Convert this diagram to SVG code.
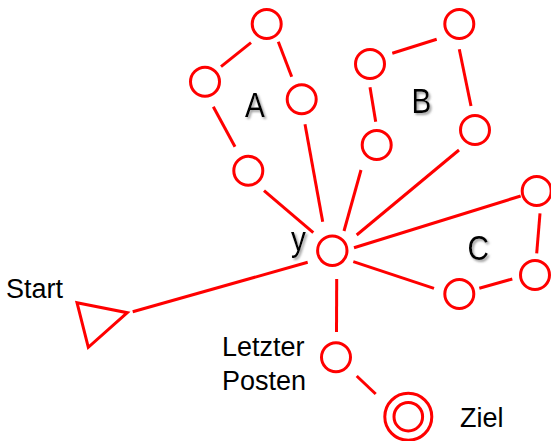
<svg xmlns="http://www.w3.org/2000/svg" width="551" height="441" viewBox="0 0 551 441">
<defs>
<filter id="sh" x="-20%" y="-20%" width="150%" height="150%">
<feDropShadow dx="2" dy="2" stdDeviation="1" flood-color="#888" flood-opacity="0.8"/>
</filter>
<style>
.n{fill:none;stroke:#ff0000;stroke-width:3}
.c line{stroke:#ff0000;stroke-width:3}
.lbl{font-family:"Liberation Sans",Arial,sans-serif;font-size:27px;fill:#000}
.big{font-family:"Liberation Sans",Arial,sans-serif;font-size:35px;fill:#000;filter:url(#sh)}
</style>
</defs>
<rect width="551" height="441" fill="#fff"/>
<g class="c" id="connectors">
<line x1="251" y1="42.7" x2="221" y2="66.7"/>
<line x1="278.3" y1="41.7" x2="291.7" y2="76.7"/>
<line x1="213.3" y1="106.7" x2="235" y2="146.7"/>
<line x1="305" y1="124.3" x2="322.7" y2="221.7"/>
<line x1="264" y1="190.7" x2="313.3" y2="232.7"/>
<line x1="370" y1="87.3" x2="375.7" y2="121.7"/>
<line x1="392.3" y1="53.3" x2="436.7" y2="39.3"/>
<line x1="459.3" y1="49.3" x2="471" y2="106"/>
<line x1="361" y1="170" x2="344" y2="231"/>
<line x1="459" y1="150" x2="356.7" y2="235"/>
<line x1="354" y1="247.7" x2="520.7" y2="196"/>
<line x1="540" y1="213.3" x2="536.7" y2="253.3"/>
<line x1="512.3" y1="279" x2="479.3" y2="288.3"/>
<line x1="353.3" y1="261.7" x2="434" y2="288.3"/>
<line x1="132.7" y1="311.7" x2="307.7" y2="262.3"/>
<line x1="336.7" y1="279" x2="336.5" y2="332"/>
<line x1="356.7" y1="376" x2="375.7" y2="394"/>
</g>
<g id="A1"><circle class="n" cx="266.7" cy="24" r="14.5"/></g>
<g id="A2"><circle class="n" cx="205" cy="81.7" r="14.5"/></g>
<g id="A3"><circle class="n" cx="301.7" cy="99.3" r="14.5"/></g>
<g id="A4"><circle class="n" cx="248.3" cy="170.7" r="14.5"/></g>
<g id="B1"><circle class="n" cx="370" cy="64" r="14.5"/></g>
<g id="B2"><circle class="n" cx="459.3" cy="24" r="14.5"/></g>
<g id="B3"><circle class="n" cx="376.7" cy="145" r="14.5"/></g>
<g id="B4"><circle class="n" cx="475" cy="130" r="14.5"/></g>
<g id="C1"><circle class="n" cx="536.7" cy="191" r="14.5"/></g>
<g id="C2"><circle class="n" cx="535" cy="275" r="14.5"/></g>
<g id="C3"><circle class="n" cx="459.3" cy="294" r="14.5"/></g>
<g id="Y"><circle class="n" cx="332.3" cy="250.7" r="14.7"/></g>
<g id="Start"><polygon class="n" points="77,302.7 127.3,312.7 88.3,347.3"/></g>
<g id="Letzter"><circle class="n" cx="336" cy="357.3" r="14.5"/></g>
<g id="Ziel"><circle class="n" cx="408.3" cy="416.7" r="23.5"/><circle class="n" cx="408.3" cy="416.7" r="14.3"/></g>
<g id="labels">
<text class="big" transform="translate(245 117) scale(0.85 1)">A</text>
<text class="big" transform="translate(411.5 112.5) scale(0.85 1)">B</text>
<text class="big" transform="translate(467.5 259.5) scale(0.85 1)">C</text>
<text class="big" transform="translate(291 251) scale(0.85 1)">y</text>
<text class="lbl" x="6" y="298">Start</text>
<text class="lbl" x="222" y="356">Letzter</text>
<text class="lbl" x="222" y="390">Posten</text>
<text class="lbl" x="460" y="427">Ziel</text>
</g>
</svg>
